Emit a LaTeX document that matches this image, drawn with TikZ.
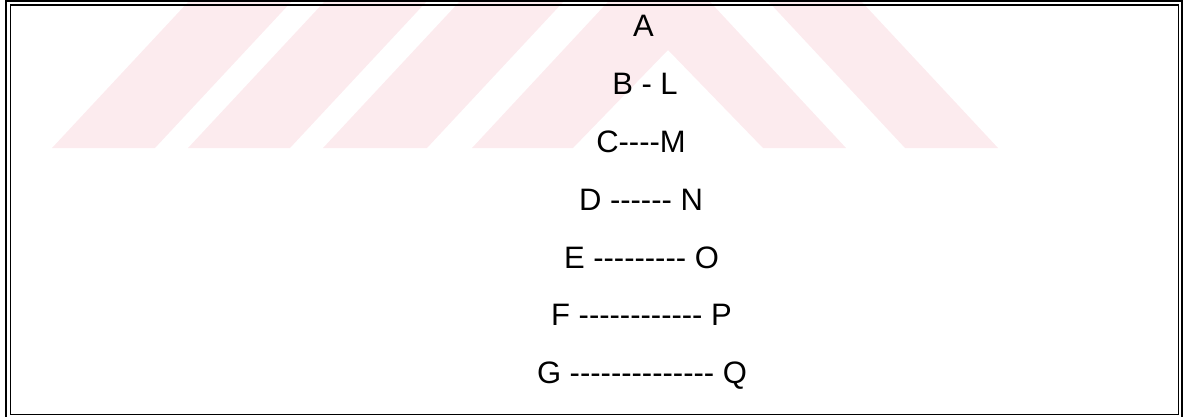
\documentclass[tikz,border=0pt]{standalone}
\usepackage{fontspec}
\setmainfont{Liberation Sans}
\definecolor{wm}{RGB}{252,235,238}
\newcommand\dashrun[1]{\foreach\k in {1,...,#1}{-}}
\begin{document}
\begin{tikzpicture}[x=1pt,y=-1pt,
  lbl/.style={anchor=base,inner sep=0pt,font=\fontsize{31}{37}\selectfont},
  framebox/.style={draw=black,line width=1.3pt},
  stripe/.style={fill=wm,draw=none}]
\useasboundingbox (0,0) rectangle (1201,417);
% watermark band
\begin{scope}
\clip (0,0) rectangle (1201,148);
\fill[stripe] (52,148) -- (190,0) -- (293,0) -- (155,148) -- cycle;
\fill[stripe] (188,148) -- (326,0) -- (428,0) -- (290,148) -- cycle;
\fill[stripe] (323,148) -- (461,0) -- (565,0) -- (427,148) -- cycle;
\fill[stripe] (472,148) -- (659,-53) -- (846,148) -- (763,148) -- (668,50) -- (573,148) -- cycle;
\fill[stripe] (905,148) -- (767,0) -- (860,0) -- (998,148) -- cycle;
\end{scope}
% double frame
\draw[framebox] (6,1) rectangle (1182,418.5);
\draw[framebox] (10.5,5) rectangle (1178.5,414.5);
% labels
\node[lbl] (a)  at (643.5,37) {A};
\node[lbl] (bl) at (645,95)   {B - L};
\node[lbl] (cm) at (641,153)  {C\dashrun{4}M};
\node[lbl] (dn) at (641,210)  {D \dashrun{6} N};
\node[lbl] (eo) at (641.5,268) {E \dashrun{9} O};
\node[lbl] (fp) at (641.5,325) {F \dashrun{12} P};
\node[lbl] (gq) at (642,383)  {G \dashrun{14} Q};
\end{tikzpicture}
\end{document}
